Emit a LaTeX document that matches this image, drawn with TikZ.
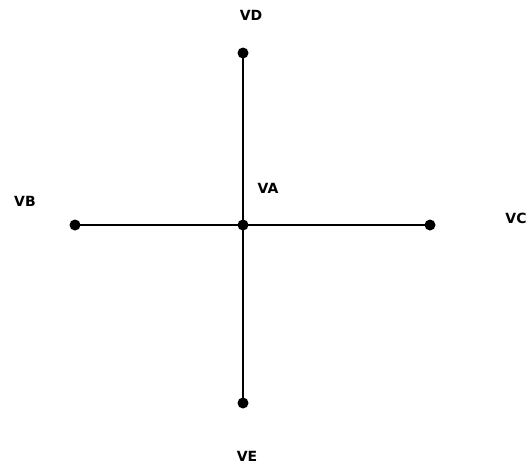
\documentclass[tikz,border=0pt]{standalone}
\usepackage{fontspec}
\setmainfont{DejaVu Sans}
\usetikzlibrary{positioning}

\tikzset{pin/.style={circle,fill=black,inner sep=0pt,minimum size=11pt},
	lbl/.style={font=\fontsize{14}{16}\selectfont\bfseries}}

\begin{document}
\begin{tikzpicture}[x=1pt,y=-1pt,line width=1.8pt]
		\useasboundingbox (0,0) rectangle (530,467);
		\node[pin] (vA) at (243,225) {}; \node[pin] (vB) at (75,225) {}; \node[pin] (vC) at (430,225) {}; \node[pin] (vD) at (243,53) {}; \node[pin] (vE) at (243,403) {};

		\draw (vB.center) -- (vC.center); \draw (vD.center) -- (vE.center);

		\node[lbl] (tA) at (268,188) {VA}; \node[lbl] (tB) at (25,201) {VB}; \node[lbl] (tC) at (516,218) {VC}; \node[lbl] (tD) at (251,15) {VD}; \node[lbl] (tE) at (247,456) {VE};
	\end{tikzpicture}
\end{document}
